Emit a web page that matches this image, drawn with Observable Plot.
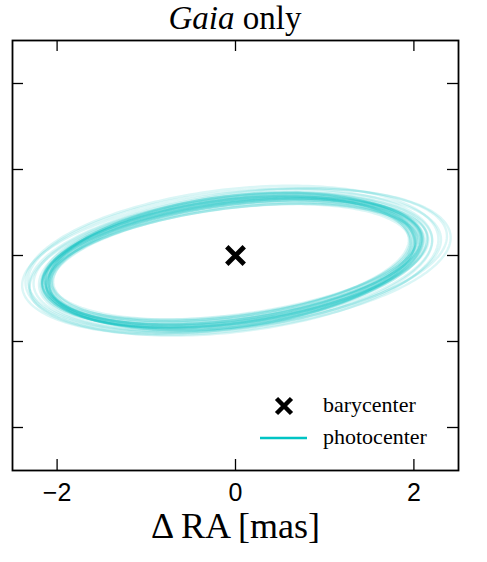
<!DOCTYPE html>
<html><head><meta charset="utf-8">
<script src="https://cdn.jsdelivr.net/npm/d3@7"></script>
<script src="https://cdn.jsdelivr.net/npm/@observablehq/plot@0.6"></script>
<style>
body{margin:0;background:#fff;}
#title{width:470px;height:36px;line-height:36px;text-align:center;font-family:"Liberation Serif",serif;font-size:33px;color:#000;white-space:nowrap;}
</style></head><body>
<div id="title"><i>Gaia</i> only</div>
<div id="chart"></div>
<script>
// axis ticks
const xTicks = [-2, 0, 2];
const xTickLabels = ["−2", "0", "2"];
const yTicks = [-2, -1, 0, 1, 2];
const xLabel = "Δ RA [mas]";
const legendLabels = ["barycenter", "photocenter"];
// barycenter position
const baryX = [0];
const baryY = [0];
// posterior orbit samples of the photocenter (ellipse semi-axes [mas], tilt [deg], centre [mas])
const sampleA    = [2.08, 2.11, 2.03, 2.13, 2.06, 2.15, 2.09, 2.12, 2.02, 2.14, 2.05, 2.10, 2.18, 2.07, 2.13, 2.01, 2.16, 2.09, 2.12, 2.06, 2.14, 2.04, 2.19, 2.10, 2.07, 2.13, 2.05, 2.15,
                    2.22, 2.30, 2.36, 2.28, 2.42, 2.33, 2.25];
const sampleB    = [0.69, 0.71, 0.64, 0.73, 0.66, 0.75, 0.70, 0.67, 0.63, 0.72, 0.76, 0.65, 0.70, 0.74, 0.68, 0.66, 0.72, 0.62, 0.75, 0.70, 0.67, 0.73, 0.69, 0.64, 0.76, 0.71, 0.67, 0.72,
                    0.75, 0.77, 0.78, 0.80, 0.80, 0.83, 0.76];
const sampleTilt = [7.5, 7.8, 7.2, 7.6, 7.9, 7.3, 7.0, 8.1, 7.5, 7.7, 7.4, 7.6, 7.9, 7.1, 7.4, 7.8, 7.2, 7.6, 7.3, 8.0, 7.5, 6.9, 7.7, 7.4, 7.6, 7.2, 7.9, 7.5,
                    7.5, 7.2, 7.8, 6.8, 7.4, 7.0, 8.3];
const sampleCx   = [-0.04, -0.03, -0.05, -0.02, -0.04, -0.03, -0.06, -0.02, -0.05, -0.04, -0.03, -0.05, -0.01, -0.04, -0.06, -0.05, -0.02, -0.04, -0.03, -0.05, -0.04, -0.06, -0.01, -0.03, -0.04, -0.02, -0.05, -0.03,
                    0.00, 0.02, 0.03, -0.06, 0.01, -0.04, -0.08];
const sampleCy   = [-0.07, -0.08, -0.06, -0.07, -0.09, -0.06, -0.07, -0.08, -0.08, -0.07, -0.07, -0.06, -0.08, -0.09, -0.07, -0.06, -0.08, -0.07, -0.07, -0.08, -0.06, -0.07, -0.08, -0.09, -0.07, -0.06, -0.08, -0.07,
                    -0.08, -0.07, -0.06, -0.06, -0.07, -0.06, -0.09];

const teal = "#10c4c2";
const serif = "'Liberation Serif', serif";
const sans = "'Liberation Sans', sans-serif";

// trace each orbit sample as a closed ellipse
const orbitPts = [];
sampleA.forEach((a, i) => {
  const b = sampleB[i], th = sampleTilt[i] * Math.PI / 180;
  for (let k = 0; k <= 240; k++) {
    const t = 2 * Math.PI * k / 240;
    orbitPts.push({
      id: i,
      x: sampleCx[i] + a * Math.cos(t) * Math.cos(th) - b * Math.sin(t) * Math.sin(th),
      y: sampleCy[i] + a * Math.cos(t) * Math.sin(th) + b * Math.sin(t) * Math.cos(th)
    });
  }
});
const bary = baryX.map((x, i) => ({x, y: baryY[i]}));

const W = 487, H = 526, mL = 12, mR = 29, mT = 4, mB = 92;
const innerH = H - mT - mB;
const innerW = W - mL - mR;
const tick = 11;

// legend drawn inside the frame (lower right)
function legend(index, scales, values, dims) {
  const g = d3.create("svg:g");
  const fx = dims.width - dims.marginRight, fy = dims.height - dims.marginBottom;
  const mx = fx - 174, my1 = fy - 64, my2 = fy - 32;
  const s = 7.5;
  g.append("path").attr("d", `M${mx - s},${my1 - s}L${mx + s},${my1 + s}M${mx - s},${my1 + s}L${mx + s},${my1 - s}`)
    .attr("stroke", "black").attr("stroke-width", 4.5).attr("fill", "none");
  g.append("line").attr("x1", fx - 198).attr("x2", fx - 151).attr("y1", my2).attr("y2", my2)
    .attr("stroke", "#00c4c4").attr("stroke-width", 2.6);
  legendLabels.forEach((lab, i) => {
    g.append("text").attr("x", fx - 135).attr("y", i === 0 ? my1 + 6 : my2 + 6)
      .attr("text-anchor", "start")
      .attr("font-family", serif).attr("font-size", 22).attr("fill", "black").text(lab);
  });
  return g.node();
}

const chart = Plot.plot({
  width: W, height: H,
  marginLeft: mL, marginRight: mR, marginTop: mT, marginBottom: mB,
  x: {domain: [-2.5, 2.5], label: null},
  y: {domain: [-2.5, 2.5], label: null},
  style: {background: "white", overflow: "visible"},
  marks: [
    Plot.line(orbitPts, {x: "x", y: "y", z: "id", stroke: teal, strokeOpacity: 0.15, strokeWidth: 2.4}),
    Plot.dot(bary, {x: "x", y: "y", symbol: "times", r: 8, stroke: "black", strokeWidth: 4.8}),
    // inward ticks on all four sides
    Plot.tickX(xTicks, {x: d => d, insetTop: innerH - tick, stroke: "black", strokeWidth: 1.3}),
    Plot.tickX(xTicks, {x: d => d, insetBottom: innerH - tick, stroke: "black", strokeWidth: 1.3}),
    Plot.tickY(yTicks, {y: d => d, insetRight: innerW - tick, stroke: "black", strokeWidth: 1.3}),
    Plot.tickY(yTicks, {y: d => d, insetLeft: innerW - tick, stroke: "black", strokeWidth: 1.3}),
    Plot.axisX(xTicks, {anchor: "bottom", tickSize: 0, tickPadding: 13, tickFormat: (d, i) => xTickLabels[i], fontSize: 25, fontFamily: sans, label: null}),
    Plot.axisY({anchor: "left", ticks: [], label: null}),
    Plot.frame({stroke: "black", strokeWidth: 1.8}),
    Plot.text([xLabel], {frameAnchor: "bottom", dy: 67, lineAnchor: "bottom", fontSize: 36, fontFamily: serif, fill: "black"}),
    legend
  ]
});
document.getElementById("chart").appendChild(chart);
</script>
</body></html>
